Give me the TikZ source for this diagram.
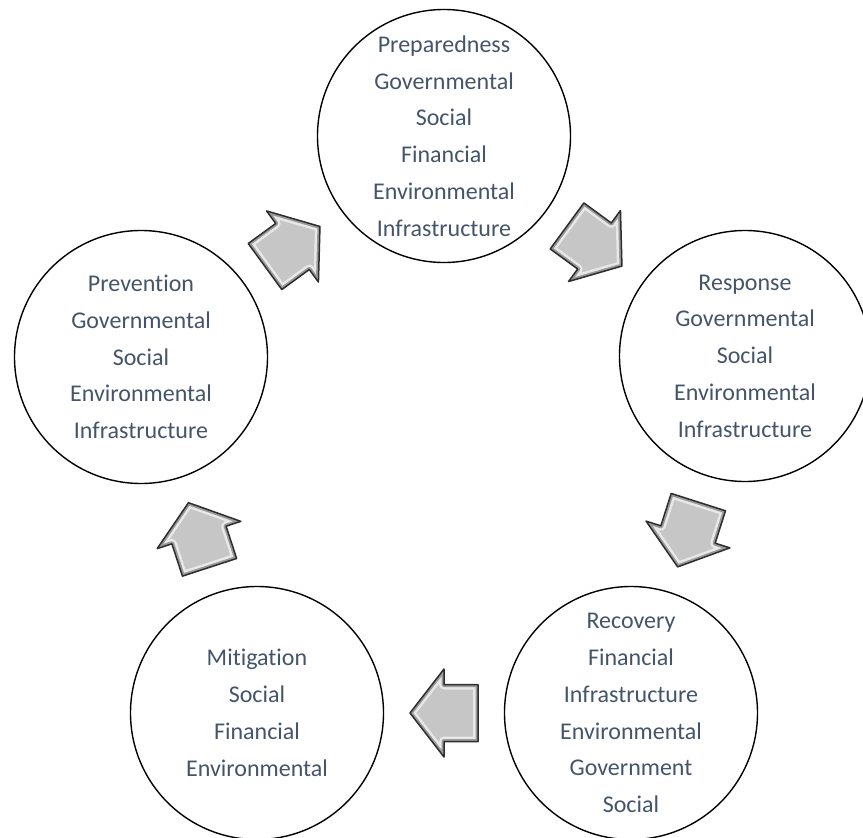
\documentclass[tikz,border=0pt]{standalone}
\usepackage{fontspec}
\setmainfont[Ligatures=NoCommon]{Carlito}
\usetikzlibrary{calc}
\definecolor{phasetext}{HTML}{44546A}
\definecolor{arrowfill}{HTML}{C6C6C6}
\definecolor{arrowedge}{HTML}{9A9A9A}
\definecolor{arrowline}{HTML}{2E2E2E}

\begin{document}
\begin{tikzpicture}[x=1pt, y=-1pt,
  phase/.style={circle, draw=black, line width=1.4pt, minimum size=253pt, inner sep=0pt,
    align=center, text=phasetext, font=\fontsize{24}{36.8}\selectfont},
  cyclearrow/.style={draw=arrowline, line width=1.5pt, line join=round}]
\useasboundingbox (0,0) rectangle (863,838);

% the five phases
\node[phase] (prep) at (444,136) {Preparedness\\Governmental\\Social\\Financial\\Environmental\\Infrastructure};
\node[phase, minimum size=251pt] (resp) at (745,356) {Response\\Governmental\\Social\\Environmental\\Infrastructure};
\node[phase] (reco) at (631,713) {Recovery\\Financial\\Infrastructure\\Environmental\\Government\\Social};
\node[phase] (miti) at (257,713) {Mitigation\\Social\\Financial\\Environmental};
\node[phase] (prev) at (141,357) {Prevention\\Governmental\\Social\\Environmental\\Infrastructure};

% block arrows halfway between the circles
\foreach \a/\b in {prev/prep, prep/resp, resp/reco, reco/miti, miti/prev} {
  \coordinate (m) at ($(\a.center)!0.5!(\b.center)$);
  \coordinate (tip) at ($(m)!34pt!(\b.center)$);
  \coordinate (tail) at ($(m)!34pt!180:(\b.center)$);
  \coordinate (h1) at ($(m)!44pt!90:(\b.center)$);
  \coordinate (h2) at ($(m)!44pt!-90:(\b.center)$);
  \coordinate (s1) at ($(m)!28.5pt!90:(\b.center)$);
  \coordinate (s2) at ($(m)!28.5pt!-90:(\b.center)$);
  \coordinate (t1) at ($(tail)!28.5pt!90:(\b.center)$);
  \coordinate (t2) at ($(tail)!28.5pt!-90:(\b.center)$);
  \begin{scope}
    \clip (tip) -- (h1) -- (s1) -- (t1) -- (t2) -- (s2) -- (h2) -- cycle;
    \fill[arrowfill] (tip) -- (h1) -- (s1) -- (t1) -- (t2) -- (s2) -- (h2) -- cycle;
    \draw[white, opacity=.6, line width=10pt, line join=round] (tip) -- (h1) -- (s1) -- (t1) -- (t2) -- (s2) -- (h2) -- cycle;
    \draw[arrowedge, line width=5pt, line join=round] (tip) -- (h1) -- (s1) -- (t1) -- (t2) -- (s2) -- (h2) -- cycle;
  \end{scope}
  \draw[cyclearrow] (tip) -- (h1) -- (s1) -- (t1) -- (t2) -- (s2) -- (h2) -- cycle;
}

\end{tikzpicture}
\end{document}
